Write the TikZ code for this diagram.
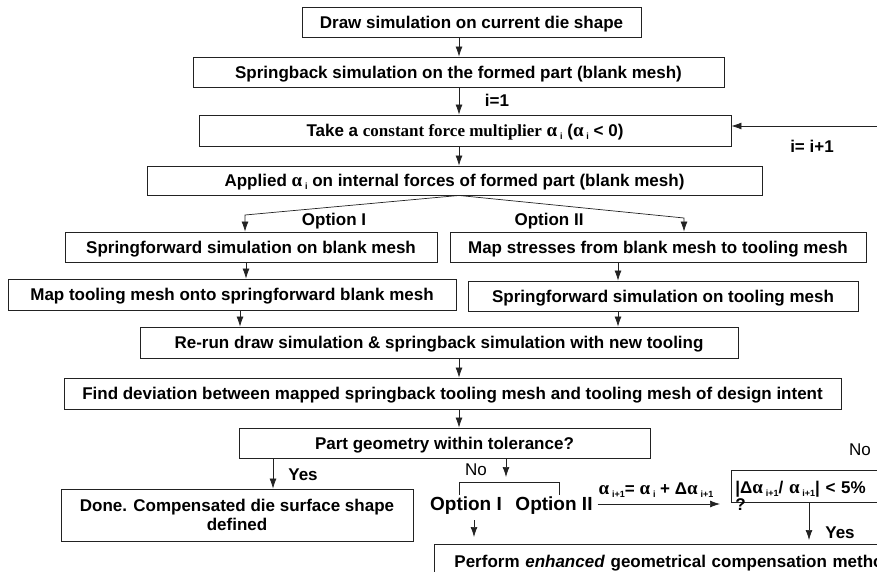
\documentclass[tikz,border=0pt]{standalone}
\usepackage{fontspec}
\setmainfont{Liberation Sans}
\newfontfamily\serifface{Liberation Serif}
\usetikzlibrary{arrows.meta}

% Greek alpha in a serif face, and a lowered small index after it
\newcommand{\alp}{{\serifface\bfseries\fontsize{19}{19}\selectfont α}}
\newcommand{\idx}[1]{\,\raisebox{-3pt}{\fontsize{9}{9}\selectfont\bfseries #1}}

\definecolor{edge}{HTML}{222222}

\tikzset{
  box/.style={draw=edge, line width=0.9pt, inner sep=0pt, text depth=0pt,
    font=\fontsize{17}{19}\selectfont\bfseries},
  arr/.style={draw=edge, -{Latex[length=10pt,width=7pt]}, line width=0.7pt},
  lbl/.style={inner sep=0pt, font=\fontsize{17}{19}\selectfont\bfseries},
  plain/.style={inner sep=0pt, font=\fontsize{17}{19}\selectfont},
  big/.style={inner sep=0pt, font=\fontsize{19}{21}\selectfont\bfseries},
}

\begin{document}
\begin{tikzpicture}[x=1pt, y=-1pt]
\useasboundingbox (0,0) rectangle (877,572);
\clip (0,0) rectangle (877,572);

% process boxes
\node[box, minimum width=339pt, minimum height=30pt] (b1) at (471.5,22) {Draw simulation on current die shape};
\node[box, minimum width=531pt, minimum height=30pt] (b2) at (458.5,72) {Springback simulation on the formed part (blank mesh)};
\node[box, minimum width=532pt, minimum height=31pt] (b3) at (465,130.5)
  {Take a {\serifface constant force multiplier} \alp\idx{i} (\alp\idx{i} < 0)};
\node[box, minimum width=615pt, minimum height=29pt] (b4) at (454.5,180.5)
  {Applied \alp\idx{i} on internal forces of formed part (blank mesh)};
\node[box, minimum width=372pt, minimum height=30pt] (b5) at (251,247) {Springforward simulation on blank mesh};
\node[box, minimum width=416pt, minimum height=30pt] (b6) at (658,247) {Map stresses from blank mesh to tooling mesh};
\node[box, minimum width=448pt, minimum height=31pt] (b7) at (232,294.5) {Map tooling mesh onto springforward blank mesh};
\node[box, minimum width=390pt, minimum height=30pt] (b8) at (663,296) {Springforward simulation on tooling mesh};
\node[box, minimum width=598pt, minimum height=31pt] (b9) at (439,342.5) {Re-run draw simulation \& springback simulation with new tooling};
\node[box, minimum width=777pt, minimum height=31pt] (b10) at (452.5,393.5) {Find deviation between mapped springback tooling mesh and tooling mesh of design intent};
\node[box, minimum width=411pt, minimum height=30pt] (b11) at (444.5,443) {Part geometry within tolerance?};
\node[box, minimum width=352pt, minimum height=52pt, align=center] (b12) at (237,515)
  {Done. Compensated die surface shape\\defined};
\node[box, anchor=north west, text width=560pt, inner xsep=20pt, minimum height=34pt, align=left] (b13) at (434,544)
  {Perform \textit{enhanced} geometrical compensation method};
\node[box, anchor=north west, text width=152pt, inner xsep=4pt, minimum height=32pt, align=left,
  font=\fontsize{17}{12}\selectfont\bfseries] (b14) at (731,470)
  {\lineskiplimit=-20pt\lineskip=0pt
   \rule{0pt}{14pt}|Δ\alp\idx{i+1}/ \alp\idx{i+1}| < 5\%\\?};

% column positions of the vertical connectors
\coordinate (cm) at (459,0);
\coordinate (sl) at (245,215);
\coordinate (sr) at (684,218);
\coordinate (c5) at (246,0);
\coordinate (c6) at (618,0);
\coordinate (c7) at (240,0);
\coordinate (cy) at (273,0);
\coordinate (cn) at (506,477);
\coordinate (c1) at (474,0);
\coordinate (cq) at (809,0);

% main chain
\draw[arr] (b1.south -| cm) -- (b2.north -| cm);
\draw[arr] (b2.south -| cm) -- (b3.north -| cm);
\draw[arr] (b3.south -| cm) -- (b4.north -| cm);
\draw[arr] (b4.south -| cm) -- (sl) -- (b5.north -| sl);
\draw[arr] (b4.south -| cm) -- (sr) -- (b6.north -| sr);
\draw[arr] (b5.south -| c5) -- (b7.north -| c5);
\draw[arr] (b6.south -| c6) -- (b8.north -| c6);
\draw[arr] (b7.south -| c7) -- (b9.north -| c7);
\draw[arr] (b8.south -| c6) -- (b9.north -| c6);
\draw[arr] (b9.south -| cm) -- (b10.north -| cm);
\draw[arr] (b10.south -| cm) -- (b11.north -| cm);
\draw[arr] (b11.south -| cy) -- (b12.north -| cy);
\draw[arr] (b11.south -| cn) -- (cn);

% option bracket below the tolerance check
\node[big] (o1) at (466,506) {Option I};
\node[big] (o2) at (554,506) {Option II};
\coordinate (k1) at (459,495);
\coordinate (k2) at (559,495);
\coordinate (kt) at (0,482);
\draw[edge, line width=0.8pt] (k1) -- (k1 |- kt) -- (k2 |- kt) -- (k2);

\draw[arr, shorten <=5pt, shorten >=7pt] (o1.south -| c1) -- (b13.north -| c1);
\draw[arr, shorten <=5pt, shorten >=11pt] ([yshift=2pt]o2.east) -- ([yshift=2pt]o2.east -| b14.west);
\draw[arr, shorten >=4pt] (b14.south -| cq) -- (b13.north -| cq);

% loop back for the next multiplier
\draw[arr] (b14.east) -- ++(30,0) |- ([yshift=4.5pt]b3.east);

% labels
\node[lbl] at (497,100) {i=1};
\node[lbl] at (812,146) {i= i+1};
\node[lbl] at (334,221) {Option I};
\node[lbl] at (549,221) {Option II};
\node[lbl] at (303,475) {Yes};
\node[plain] at (476,470) {No};
\node[lbl] at (656,490) {\alp\idx{i+1}= \alp\idx{i} + Δ\alp\idx{i+1}};
\node[lbl] at (840,533) {Yes};
\node[plain] at (860,450) {No};
\end{tikzpicture}
\end{document}
